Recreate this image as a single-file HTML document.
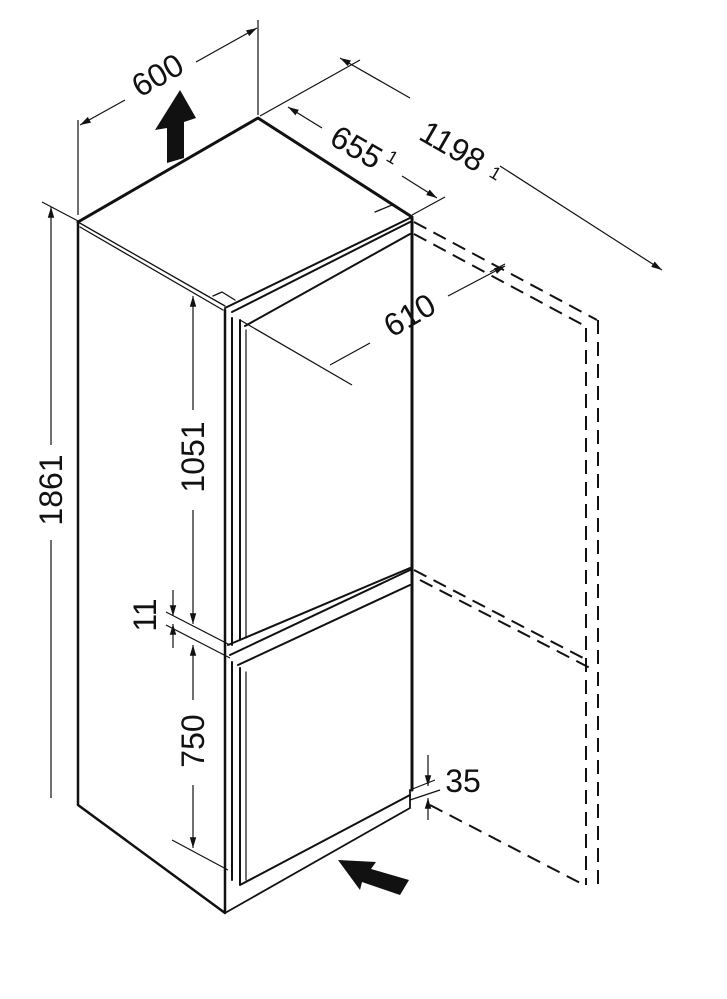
<!DOCTYPE html>
<html><head><style>body{margin:0;background:#fff}svg{display:block}text{font-family:"Liberation Sans",sans-serif;fill:#111}</style></head>
<body>
<svg width="727" height="999" viewBox="0 0 727 999" xmlns="http://www.w3.org/2000/svg">
<defs><marker id="a" viewBox="0 0 10 10" refX="10" refY="5" markerWidth="9" markerHeight="9" orient="auto-start-reverse"><path d="M0,2 L10,5 L0,8 Z" fill="#111"/></marker></defs>
<g stroke="#111" fill="none" stroke-linecap="round" stroke-linejoin="round">
<path d="M78,222 L258,118 L412,217 L412,790" stroke-width="3"/>
<path d="M78,222 L78,805 L225,913 L225,310" stroke-width="2.5"/>
<path d="M78,222 L225,306 M80,227 L223,310" stroke-width="1.3"/>
<path d="M225,308 L412,217 M232,312 L410,222" stroke-width="2"/>
<path d="M232,318 L232,645 M240,320 L240,640 M245,326 L410,234 M228,645 L410,568" stroke-width="2"/>
<path d="M246,330 L246,638" stroke-width="1.2"/>
<path d="M230,655 L410,570 M238,665 L410,585 M232,662 L232,880 M240,668 L240,885 M240,885 L410,795" stroke-width="2"/>
<path d="M246,672 L246,880" stroke-width="1.2"/>
<path d="M225,913 L410,808 M410,790 L410,808" stroke-width="1.8"/>
<path d="M213,296 L222,292 L235,300 M375,212 L392,205 L410,215" stroke-width="1.3"/>
</g>
<g stroke="#111" fill="none" stroke-width="2" stroke-dasharray="14,8">
<path d="M414,222 L597,320 M414,234 L585,326"/>
<path d="M586,328 L586,885 M598,320 L598,885"/>
<path d="M414,570 L587,660 M420,580 L590,668"/>
<path d="M430,805 L586,886"/>
</g>
<g stroke="#111" fill="none" stroke-width="1.2">
<path d="M78,120 L78,215 M258,20 L258,115"/>
<path d="M125,100 L80,125" marker-end="url(#a)"/>
<path d="M196,62 L257,28" marker-end="url(#a)"/>
<path d="M260,116 L360,60 M412,215 L445,197 M490,272 L505,264"/>
<path d="M322,128 L288,107" marker-end="url(#a)"/>
<path d="M402,176 L437,198" marker-end="url(#a)"/>
<path d="M410,98 L340,58" marker-end="url(#a)"/>
<path d="M500,166 L662,270" marker-end="url(#a)"/>
<path d="M240,320 L352,385"/>
<path d="M370,343 L330,365"/>
<path d="M448,296 L505,266" marker-end="url(#a)"/>
<path d="M42,202 L80,222"/>
<path d="M51,445 L51,207" marker-end="url(#a)"/>
<path d="M51,540 L51,798"/>
<path d="M193,410 L193,296" marker-end="url(#a)"/>
<path d="M193,510 L193,624" marker-end="url(#a)"/>
<path d="M166,612 L230,645 M166,625 L230,658"/>
<path d="M173,590 L173,616" marker-end="url(#a)"/>
<path d="M173,648 L173,624" marker-end="url(#a)"/>
<path d="M193,700 L193,645" marker-end="url(#a)"/>
<path d="M193,785 L193,848" marker-end="url(#a)"/>
<path d="M172,840 L228,870"/>
<path d="M428,755 L428,786" marker-end="url(#a)"/>
<path d="M428,820 L428,798" marker-end="url(#a)"/>
<path d="M410,790 L435,780 M410,800 L440,790"/>
</g>
<path d="M167,163 L167,128 L155,130 L180,90 L196,118 L184,122 L184,158 Z" fill="#111"/>
<path d="M338,860 L376,862 L371,869 L409,880 L400,895 L362,882 L360,890 Z" fill="#111"/>
<g font-size="32">
<text x="158" y="86" text-anchor="middle" transform="rotate(-30 158 76)">600</text>
<text x="356" y="158" text-anchor="middle" transform="rotate(30 356 148)">655</text>
<text x="385" y="160" font-size="18" transform="rotate(30 385 160)">1</text>
<text x="452" y="157" text-anchor="middle" transform="rotate(30 452 147)">1198</text>
<text x="488" y="176" font-size="18" transform="rotate(30 488 176)">1</text>
<text x="410" y="326" text-anchor="middle" transform="rotate(-30 410 316)">610</text>
<text x="51" y="501" text-anchor="middle" transform="rotate(-90 51 490)">1861</text>
<text x="193" y="468" text-anchor="middle" transform="rotate(-90 193 457)">1051</text>
<text x="145" y="626" text-anchor="middle" transform="rotate(-90 145 615)">11</text>
<text x="193" y="752" text-anchor="middle" transform="rotate(-90 193 741)">750</text>
<text x="463" y="792" text-anchor="middle">35</text>
</g>
</svg>
</body></html>
